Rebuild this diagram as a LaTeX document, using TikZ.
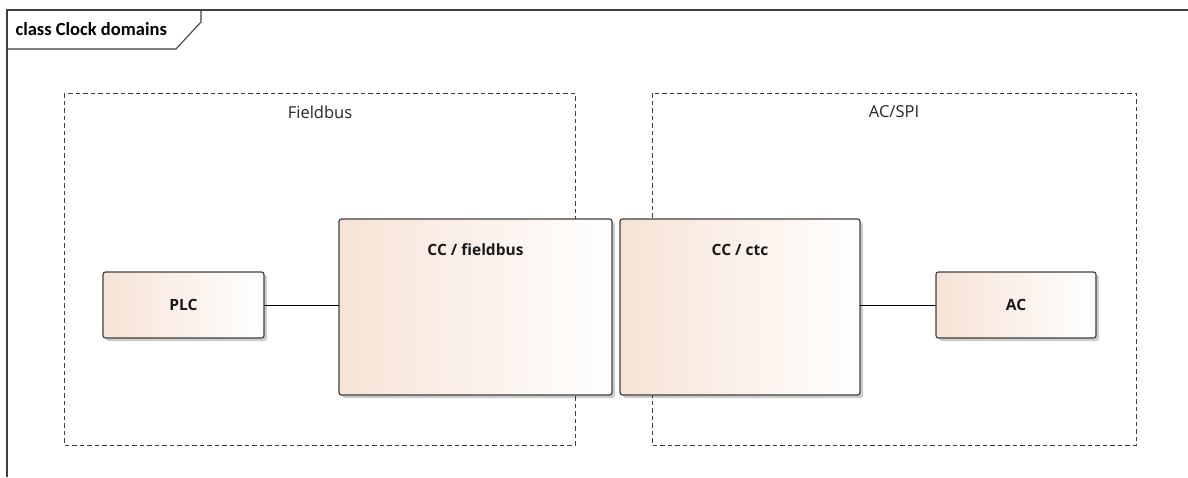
\documentclass[tikz,border=0pt]{standalone}
\usepackage{fontspec}
\setmainfont{Open Sans}
\newfontfamily\titlefont{Carlito}
\usetikzlibrary{shadows}
\definecolor{peach}{HTML}{F7E3D6}
\definecolor{frameline}{HTML}{404040}
\tikzset{
  classbox/.style={draw=frameline, line width=1.2pt, rounded corners=2.5pt,
    left color=peach, right color=white,
    drop shadow={shadow xshift=3pt, shadow yshift=-3pt, fill=black, opacity=0.2}},
  clockdomain/.style={draw=frameline, line width=1pt, dash pattern=on 4.5pt off 3pt},
  conn/.style={draw=black, line width=0.9pt},
  boxlabel/.style={font=\bfseries\fontsize{15.5}{17}\selectfont, text=black!90},
  domlabel/.style={font=\fontsize{16.5}{18}\selectfont, text=black!85},
}
\begin{document}
\begin{tikzpicture}[x=1pt,y=-1pt]
\useasboundingbox (0,0) rectangle (1188,477);
\fill[white] (0,0) rectangle (1188,477);
% diagram frame and its name tab
\draw[frameline, line width=1.3pt] (7,477) -- (7,10) -- (1188,10);
\draw[frameline, line width=1.1pt] (201,10) -- (201,22) -- (176,49) -- (7,49);
\node[anchor=west, font=\titlefont\bfseries\fontsize{18.5}{20}\selectfont, text=black] (title) at (12,29) {class Clock domains};

% clock domains
\draw[clockdomain] (64,93) rectangle (575,445);
\draw[clockdomain] (652,93) rectangle (1136,445);
\node[domlabel] (fb) at (320,112) {Fieldbus};
\node[domlabel] (acspi) at (894,112) {AC/SPI};

% classes
\path[classbox] (103,272) rectangle (264,338);
\path[classbox] (339,219) rectangle (612,395);
\path[classbox] (620,219) rectangle (860,395);
\path[classbox] (936,272) rectangle (1096,338);
\coordinate (plcE) at (264,305);
\coordinate (ccfW) at (339,305);
\coordinate (cctE) at (860,305);
\coordinate (acW) at (936,305);
\node[boxlabel] (plc) at (183.5,305) {PLC};
\node[boxlabel] (ccf) at (475.5,250) {CC / fieldbus};
\node[boxlabel] (cct) at (740,250) {CC / ctc};
\node[boxlabel] (ac) at (1016,305) {AC};

% associations
\draw[conn] (plcE) -- (ccfW);
\draw[conn] (cctE) -- (acW);
\end{tikzpicture}
\end{document}
